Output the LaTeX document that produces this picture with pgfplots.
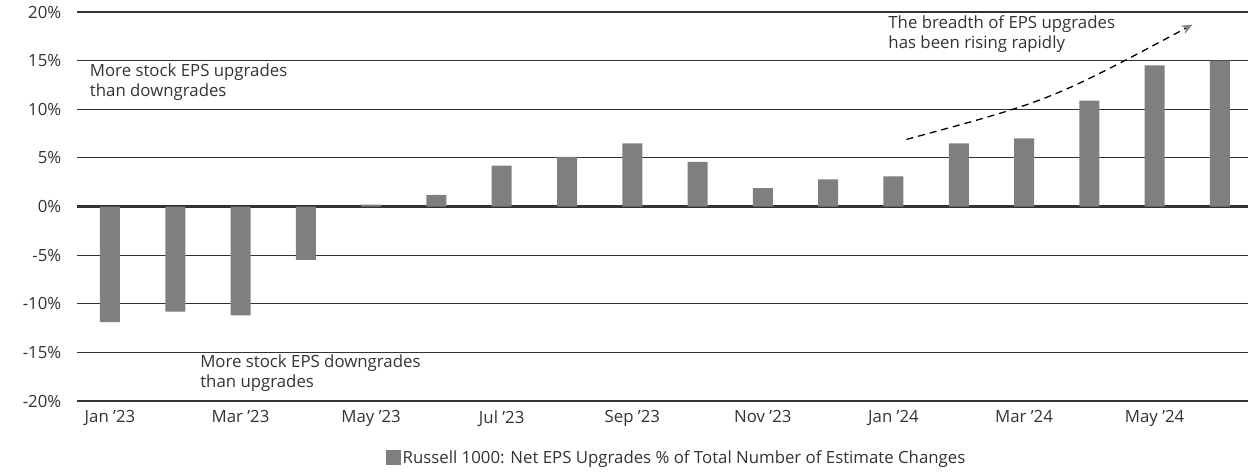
\documentclass[border=0pt]{standalone}
\usepackage{fontspec}
\setmainfont{Open Sans}
\usepackage{pgfplots}
\usepackage{pgfplotstable}
\pgfplotsset{compat=1.18}
\usetikzlibrary{arrows.meta}
\definecolor{bargray}{HTML}{7F7F7F}
\definecolor{txt}{HTML}{333333}

% Russell 1000 net EPS upgrades, % of total estimate changes (Jan '23 = 0)
\pgfplotstableread{
x val
0 -11.9
1 -10.8
2 -11.2
3 -5.5
4 0.2
5 1.2
6 4.2
7 5.1
8 6.5
9 4.6
10 1.9
11 2.8
12 3.1
13 6.5
14 7.0
15 10.9
16 14.5
17 15.0
}\eps

\begin{document}
\fontsize{16.8bp}{20bp}\selectfont
\begin{tikzpicture}
\begin{axis}[
    name=ax,
    scale only axis,
    width=1171bp, height=389bp,
    xmin=-0.505, xmax=17.43,
    ymin=-20, ymax=20,
    ytick={-20,-15,...,20},
    yticklabels={-20\%,-15\%,-10\%,-5\%,0\%,5\%,10\%,15\%,20\%},
    xtick={0,2,...,16},
    xticklabels={Jan ’23,Mar ’23,May ’23,Jul ’23,Sep ’23,Nov ’23,Jan ’24,Mar ’24,May ’24},
    axis line style={draw=none},
    major tick length=0pt,
    ymajorgrids,
    grid style={black!80, line width=1.2bp},
    extra y ticks={0},
    extra y tick labels={},
    extra y tick style={grid style={black!80, line width=2.4bp}},
    tick label style={font=\fontsize{16.8bp}{20bp}\selectfont, text=txt},
    yticklabel style={xshift=-10bp},
    xticklabel style={yshift=-4bp},
    legend style={at={(0.512,-0.147)}, anchor=center, draw=none,
        font=\fontsize{16.8bp}{20bp}\selectfont, text=txt},
]
\addplot[ybar, bar width=20bp, fill=bargray, draw=none,
    legend image code/.code={\fill[bargray] (0bp,-7bp) rectangle (15bp,8bp);}]
    table[x=x, y=val]{\eps};
\addlegendentry{Russell 1000: Net EPS Upgrades \% of Total Number of Estimate Changes}

\node[anchor=north west, align=left, text=txt, inner sep=0pt]
    at (axis cs:-0.31,14.7) {More stock EPS upgrades\\than downgrades};
\node[anchor=north west, align=left, text=txt, inner sep=0pt]
    at (axis cs:1.38,-15.2) {More stock EPS downgrades\\than upgrades};
\node[anchor=north west, align=left, text=txt, inner sep=0pt]
    at (axis cs:11.92,19.6) {The breadth of EPS upgrades\\has been rising rapidly};
\draw[black, line width=1.3bp, dash pattern=on 7bp off 5bp,
      -{Stealth[color=gray, length=11bp, width=9bp]}]
    (axis cs:12.2,6.9) .. controls (axis cs:14.4,10.9) .. (axis cs:16.58,18.7);
\end{axis}
\pgfresetboundingbox
\path[use as bounding box] ([xshift=-77bp,yshift=-70bp]ax.south west)
    rectangle ([yshift=12bp]ax.north east);
\end{tikzpicture}
\end{document}
